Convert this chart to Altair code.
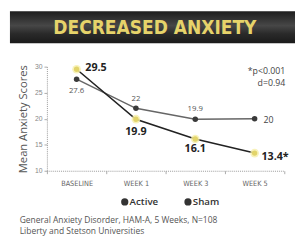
import altair as alt
import pandas as pd

weeks = ["BASELINE", "WEEK 1", "WEEK 3", "WEEK 5"]
active = [29.5, 19.9, 16.1, 13.4]
sham = [27.6, 22.0, 19.9, 20.0]
active_labels = ["29.5", "19.9", "16.1", "13.4*"]
sham_labels = ["27.6", "22", "19.9", "20"]
y_ticks = [10, 15, 20, 25, 30]
title_text = "DECREASED ANXIETY"
stat_lines = ["*p<0.001", "d=0.94"]
legend_items = ["Active", "Sham"]
footnote = ["General Anxiety Disorder, HAM-A, 5 Weeks, N=108",
            "Liberty and Stetson Universities"]

df = pd.DataFrame({
    "week": weeks * 2,
    "score": active + sham,
    "group": ["Active"] * 4 + ["Sham"] * 4,
    "label": active_labels + sham_labels,
})
one = pd.DataFrame({"k": [0]})

x = alt.X("week:N", sort=weeks,
          scale=alt.Scale(type="band", domain=weeks, paddingInner=0, paddingOuter=0),
          axis=alt.Axis(title=None, labelFontSize=7.5, labelColor="#666", labelAngle=0,
                        tickBand="extent", domainColor="#999", tickColor="#aaa",
                        domainDash=[1, 1], tickSize=3, labelPadding=6,
                        labelFont="DejaVu Sans Condensed"))
y = alt.Y("score:Q", scale=alt.Scale(domain=[10, 30], nice=False, zero=False),
          axis=alt.Axis(values=y_ticks, title="Mean Anxiety Scores", titleFontSize=11.5,
                        titleFontWeight="normal", titleColor="#555", titleFont="Open Sans",
                        labelFontSize=7, labelColor="#888", grid=False, tickSize=3,
                        domainColor="#999", domainDash=[1, 1], tickColor="#aaa",
                        titlePadding=6))

base = alt.Chart(df).encode(x=x, y=y)
act = base.transform_filter(alt.datum.group == "Active")
shm = base.transform_filter(alt.datum.group == "Sham")

sham_line = shm.mark_line(color="#666", strokeWidth=1.5)
sham_pts = shm.mark_point(filled=True, color="#3a3a3a", size=32, opacity=1)
act_line = act.mark_line(color="#222", strokeWidth=1.6)
act_glow = act.mark_point(filled=True, color="#f6efaa", size=80, opacity=0.8)
act_pts = act.mark_point(filled=True, color="#e2d46a", size=30, opacity=1)

def lab(chart, week, **kw):
    return chart.transform_filter(alt.datum.week == week).mark_text(**kw).encode(text="label:N")

bold = dict(fontSize=11, fontWeight="bold", color="#222", font="Open Sans")
reg = dict(fontSize=8, color="#555", font="Open Sans")
labels = [
    lab(act, weeks[0], align="left", dx=9, dy=-1, **bold),
    lab(act, weeks[1], align="center", dy=13, **bold),
    lab(act, weeks[2], align="center", dy=10, **bold),
    lab(act, weeks[3], align="left", dx=7, dy=4, **bold),
    lab(shm, weeks[0], align="center", dy=12, **reg),
    lab(shm, weeks[1], align="center", dy=-10, **reg),
    lab(shm, weeks[2], align="center", dy=-10, **reg),
    lab(shm, weeks[3], align="left", dx=9, dy=1, fontSize=9, color="#444", font="Open Sans"),
]

deco = alt.Chart(one)
banner = deco.mark_rect(
    color=alt.Gradient(gradient="linear", x1=0, y1=0, x2=0, y2=1,
                       stops=[alt.GradientStop(color="#1e1e1e", offset=0),
                              alt.GradientStop(color="#474747", offset=0.45),
                              alt.GradientStop(color="#2a2a2a", offset=0.7),
                              alt.GradientStop(color="#1a1a1a", offset=1)])
).encode(x=alt.value(-38), x2=alt.value(262), y=alt.value(-57), y2=alt.value(-24))
title = deco.mark_text(fontSize=19.5, fontWeight="bold", color="#e6d36a",
                       font="DejaVu Sans Condensed", align="center", baseline="middle").encode(
    x=alt.value(111), y=alt.value(-40), text=alt.value(title_text))
stat1 = deco.mark_text(fontSize=9, color="#444", align="right", baseline="middle",
                       font="Open Sans").encode(
    x=alt.value(245), y=alt.value(5), text=alt.value(stat_lines[0]))
stat2 = deco.mark_text(fontSize=9, color="#444", align="right", baseline="middle",
                       font="Open Sans").encode(
    x=alt.value(245), y=alt.value(17), text=alt.value(stat_lines[1]))
leg_dot1 = deco.mark_point(filled=True, color="#333", size=55, opacity=1).encode(
    x=alt.value(80), y=alt.value(139))
leg_dot2 = deco.mark_point(filled=True, color="#333", size=55, opacity=1).encode(
    x=alt.value(145), y=alt.value(139))
leg_t1 = deco.mark_text(fontSize=10, fontWeight=600, color="#333", align="left",
                        baseline="middle", font="Open Sans").encode(
    x=alt.value(85), y=alt.value(139), text=alt.value(legend_items[0]))
leg_t2 = deco.mark_text(fontSize=10, fontWeight=600, color="#333", align="left",
                        baseline="middle", font="Open Sans").encode(
    x=alt.value(150), y=alt.value(139), text=alt.value(legend_items[1]))
foot1 = deco.mark_text(fontSize=8.7, color="#555", align="left", baseline="middle",
                       font="Open Sans").encode(
    x=alt.value(-28), y=alt.value(158), text=alt.value(footnote[0]))
foot2 = deco.mark_text(fontSize=8.7, color="#555", align="left", baseline="middle",
                       font="Open Sans").encode(
    x=alt.value(-28), y=alt.value(169), text=alt.value(footnote[1]))

chart = alt.layer(
    banner, title, stat1, stat2,
    sham_line, sham_pts, act_line, act_glow, act_pts,
    *labels,
    leg_dot1, leg_dot2, leg_t1, leg_t2, foot1, foot2,
).properties(
    width=244, height=107,
    padding={"left": 40, "top": 57, "right": 11, "bottom": 72},
    autosize=alt.AutoSizeParams(type="none"),
    background="white",
).configure_view(stroke=None)

chart.save("out.html", embed_options={"renderer": "svg", "actions": False})
